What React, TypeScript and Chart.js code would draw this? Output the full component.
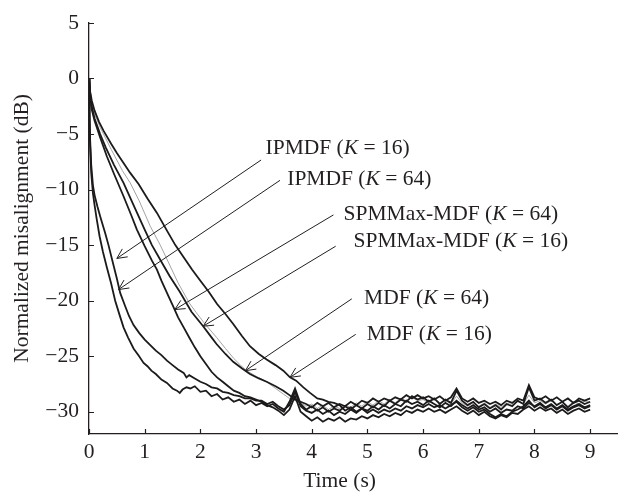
import React, { useEffect, useRef } from 'react';
import { Chart, registerables } from 'chart.js';

Chart.register(...registerables);

// ---- axes ----
const xTickValues = [0, 1, 2, 3, 4, 5, 6, 7, 8, 9];
const yTickValues = [5, 0, -5, -10, -15, -20, -25, -30];
const xMin = 0;
const xMax = 9.5;
const yMin = -32;
const yMax = 5;
const xTitle = 'Time (s)';
const yTitle = 'Normalized misalignment (dB)';

// ---- series: [time (s), misalignment (dB)] ----
const ipmdf16: [number, number][] = [
  [0, 0], [0.01, -3.5], [0.02, -6], [0.04, -8.5], [0.07, -10.3], [0.1, -11.4], [0.14, -12.7], [0.19, -14.2],
  [0.25, -15.6], [0.32, -17.0], [0.4, -18.5], [0.47, -20.0], [0.55, -21.3], [0.62, -22.4], [0.7, -23.3],
  [0.8, -24.3], [0.9, -25.0], [0.98, -25.6], [1.05, -25.9], [1.12, -26.3], [1.2, -26.6], [1.3, -27.1],
  [1.4, -27.4], [1.5, -27.9], [1.58, -28.1], [1.63, -28.3], [1.68, -28.0], [1.75, -27.8], [1.82, -27.9],
  [1.9, -27.7], [2.0, -28.2], [2.1, -28.1], [2.2, -28.6], [2.3, -28.4], [2.4, -28.9], [2.5, -28.7],
  [2.6, -29.1], [2.7, -28.9], [2.8, -29.3], [2.9, -29.0], [3.0, -29.4], [3.1, -29.2], [3.2, -29.5],
  [3.3, -29.3], [3.4, -29.7], [3.5, -30.0], [3.6, -29.1], [3.7, -27.9], [3.8, -29.3], [3.9, -29.8],
  [4.0, -29.5], [4.1, -29.9], [4.2, -29.6], [4.3, -30.0], [4.4, -29.7], [4.5, -29.9], [4.6, -29.5],
  [4.7, -29.8], [4.8, -29.4], [4.9, -29.7], [5.0, -29.3], [5.1, -29.6], [5.2, -29.2], [5.3, -29.5],
  [5.4, -29.0], [5.5, -29.3], [5.6, -28.9], [5.7, -29.1], [5.8, -28.6], [5.9, -28.9], [6.0, -28.7],
  [6.1, -29.1], [6.2, -28.8], [6.3, -29.3], [6.4, -28.9], [6.5, -29.2], [6.6, -28.1], [6.7, -29.0],
  [6.8, -29.4], [6.9, -29.1], [7.0, -29.6], [7.1, -29.3], [7.2, -29.7], [7.3, -29.4], [7.4, -29.8],
  [7.5, -29.3], [7.6, -29.5], [7.7, -29.0], [7.8, -29.3], [7.9, -27.8], [8.0, -29.0], [8.1, -28.8],
  [8.2, -29.2], [8.3, -28.9], [8.4, -29.4], [8.5, -29.1], [8.6, -29.6], [8.7, -29.2], [8.8, -29.0],
  [8.9, -29.3], [9.0, -29.1],
];

const ipmdf64: [number, number][] = [
  [0, 0], [0.01, -3], [0.02, -5.5], [0.04, -7.8], [0.07, -9.6], [0.1, -10.5], [0.15, -11.5], [0.2, -12.4],
  [0.29, -13.9], [0.35, -15.0], [0.42, -16.4], [0.5, -18.0], [0.56, -19.3], [0.65, -20.5], [0.72, -21.4],
  [0.8, -22.2], [0.9, -22.9], [1.0, -23.5], [1.1, -24.0], [1.2, -24.5], [1.3, -24.9], [1.4, -25.4],
  [1.5, -25.8], [1.6, -26.2], [1.7, -26.5], [1.75, -26.9], [1.8, -26.7], [1.9, -27.0], [2.0, -27.3],
  [2.1, -27.5], [2.2, -27.8], [2.3, -27.9], [2.4, -28.2], [2.5, -28.3], [2.6, -28.5], [2.7, -28.6],
  [2.8, -28.8], [2.9, -28.8], [3.0, -29.0], [3.1, -29.0], [3.2, -29.3], [3.3, -29.1], [3.4, -29.5],
  [3.5, -29.8], [3.6, -29.4], [3.7, -28.2], [3.8, -29.5], [3.9, -29.9], [4.0, -30.1], [4.1, -29.8],
  [4.2, -30.2], [4.3, -29.9], [4.4, -30.3], [4.5, -30.0], [4.6, -30.2], [4.7, -29.8], [4.8, -30.1],
  [4.9, -29.7], [5.0, -29.9], [5.1, -29.5], [5.2, -29.8], [5.3, -29.4], [5.4, -29.7], [5.5, -29.3],
  [5.6, -29.5], [5.7, -29.0], [5.8, -29.3], [5.9, -29.1], [6.0, -29.4], [6.1, -29.0], [6.2, -29.3],
  [6.3, -29.6], [6.4, -29.2], [6.5, -29.5], [6.6, -29.0], [6.7, -29.4], [6.8, -29.7], [6.9, -29.4],
  [7.0, -29.8], [7.1, -29.6], [7.2, -30.0], [7.3, -29.7], [7.4, -30.1], [7.5, -29.8], [7.6, -29.9],
  [7.7, -29.5], [7.8, -29.7], [7.9, -29.2], [8.0, -29.5], [8.1, -29.2], [8.2, -29.6], [8.3, -29.3],
  [8.4, -29.7], [8.5, -29.4], [8.6, -29.8], [8.7, -29.5], [8.8, -29.3], [8.9, -29.6], [9.0, -29.4],
];

const spmmax64: [number, number][] = [
  [0, 0], [0.02, -1.5], [0.05, -2.8], [0.1, -3.8], [0.2, -5.3], [0.32, -7.0], [0.45, -8.6], [0.62, -10.6],
  [0.75, -12.2], [0.86, -13.6], [1.0, -15.1], [1.13, -16.4], [1.22, -17.2], [1.3, -18.2], [1.4, -19.3],
  [1.52, -20.6], [1.6, -21.5], [1.7, -22.4], [1.81, -23.4], [1.9, -24.2], [2.0, -25.0], [2.1, -25.7],
  [2.2, -26.4], [2.3, -26.9], [2.4, -27.3], [2.5, -27.7], [2.6, -28.1], [2.7, -28.3], [2.8, -28.6],
  [2.9, -28.7], [3.0, -28.9], [3.1, -29.1], [3.2, -29.4], [3.3, -29.6], [3.4, -29.9], [3.5, -30.3],
  [3.6, -29.8], [3.7, -28.6], [3.8, -30.0], [3.9, -30.4], [4.0, -30.8], [4.1, -30.5], [4.2, -30.9],
  [4.3, -30.6], [4.4, -30.8], [4.5, -30.5], [4.6, -30.9], [4.7, -30.6], [4.8, -30.7], [4.9, -30.4],
  [5.0, -30.6], [5.1, -30.3], [5.2, -30.5], [5.3, -30.2], [5.4, -30.4], [5.5, -30.1], [5.6, -30.3],
  [5.7, -29.9], [5.8, -30.1], [5.9, -29.8], [6.0, -30.0], [6.1, -29.7], [6.2, -30.0], [6.3, -29.8],
  [6.4, -30.1], [6.5, -29.8], [6.6, -29.5], [6.7, -29.9], [6.8, -30.2], [6.9, -29.9], [7.0, -30.3],
  [7.1, -30.0], [7.2, -30.4], [7.3, -30.6], [7.4, -30.3], [7.5, -30.5], [7.6, -30.1], [7.7, -30.2],
  [7.8, -29.8], [7.9, -29.5], [8.0, -29.9], [8.1, -29.6], [8.2, -29.9], [8.3, -29.7], [8.4, -30.1],
  [8.5, -29.8], [8.6, -30.2], [8.7, -29.9], [8.8, -29.7], [8.9, -30.0], [9.0, -29.8],
];

const spmmax16: [number, number][] = [
  [0, 0], [0.02, -1.3], [0.05, -2.6], [0.1, -3.6], [0.2, -5.0], [0.3, -6.2], [0.45, -7.8], [0.62, -9.4],
  [0.8, -11.4], [1.0, -13.6], [1.13, -15.0], [1.3, -16.5], [1.45, -17.8], [1.63, -19.2], [1.84, -21.0],
  [2.05, -22.3], [2.2, -23.3], [2.29, -23.9], [2.45, -24.8], [2.59, -25.5], [2.75, -26.1], [2.89, -26.6],
  [3.05, -27.0], [3.19, -27.3], [3.35, -27.7], [3.49, -28.1], [3.6, -28.5], [3.7, -28.9], [3.8, -29.1],
  [3.9, -29.3], [4.0, -29.6], [4.1, -29.2], [4.2, -29.5], [4.3, -29.2], [4.4, -29.6], [4.5, -29.3],
  [4.6, -29.5], [4.7, -29.1], [4.8, -29.4], [4.9, -29.0], [5.0, -29.2], [5.1, -28.8], [5.2, -29.1],
  [5.3, -28.8], [5.4, -29.0], [5.5, -28.7], [5.6, -28.9], [5.7, -28.5], [5.8, -28.8], [5.9, -28.5],
  [6.0, -28.8], [6.1, -28.6], [6.2, -28.9], [6.3, -28.6], [6.4, -29.0], [6.5, -28.7], [6.6, -27.9],
  [6.7, -28.8], [6.8, -29.1], [6.9, -28.8], [7.0, -29.2], [7.1, -29.0], [7.2, -29.3], [7.3, -29.1],
  [7.4, -29.4], [7.5, -29.0], [7.6, -29.2], [7.7, -28.8], [7.8, -29.0], [7.9, -27.6], [8.0, -28.7],
  [8.1, -28.9], [8.2, -28.6], [8.3, -29.0], [8.4, -28.7], [8.5, -29.1], [8.6, -28.8], [8.7, -29.2],
  [8.8, -28.8], [8.9, -29.0], [9.0, -28.8],
];

const mdf64: [number, number][] = [
  [0, 0], [0.02, -1.2], [0.05, -2.3], [0.1, -3.2], [0.2, -4.4], [0.4, -6.4], [0.6, -8.3], [0.74, -9.4],
  [0.9, -11.0], [1.1, -13.3], [1.28, -15.0], [1.45, -16.8], [1.6, -18.4], [1.69, -19.2], [1.8, -20.2],
  [1.93, -21.1], [2.1, -22.2], [2.29, -23.3], [2.45, -24.3], [2.6, -25.2], [2.72, -25.8], [2.83, -26.3],
  [3.0, -26.8], [3.19, -27.3], [3.35, -27.9], [3.49, -28.4], [3.6, -28.8], [3.7, -29.0], [3.8, -29.2],
  [3.9, -29.5], [4.0, -29.3], [4.1, -29.7], [4.2, -29.4], [4.3, -29.8], [4.4, -29.5], [4.5, -29.7],
  [4.6, -29.4], [4.7, -29.6], [4.8, -29.2], [4.9, -29.5], [5.0, -29.1], [5.1, -29.4], [5.2, -29.0],
  [5.3, -29.3], [5.4, -28.9], [5.5, -29.2], [5.6, -28.8], [5.7, -29.0], [5.8, -28.7], [5.9, -29.0],
  [6.0, -28.9], [6.1, -29.2], [6.2, -28.9], [6.3, -29.2], [6.4, -29.0], [6.5, -29.3], [6.6, -28.6],
  [6.7, -29.2], [6.8, -29.5], [6.9, -29.2], [7.0, -29.5], [7.1, -29.2], [7.2, -29.6], [7.3, -29.3],
  [7.4, -29.6], [7.5, -29.2], [7.6, -29.4], [7.7, -29.1], [7.8, -29.3], [7.9, -28.5], [8.0, -29.2],
  [8.1, -29.0], [8.2, -29.3], [8.3, -29.0], [8.4, -29.4], [8.5, -29.1], [8.6, -29.5], [8.7, -29.1],
  [8.8, -29.3], [8.9, -29.0], [9.0, -29.2],
];

const mdf16: [number, number][] = [
  [0, 0], [0.02, -1.2], [0.05, -2.0], [0.1, -2.9], [0.18, -3.9], [0.26, -4.7], [0.4, -5.9], [0.5, -6.7],
  [0.62, -7.6], [0.74, -8.5], [0.89, -9.5], [1.05, -10.8], [1.22, -12.1], [1.4, -13.7], [1.55, -15.0],
  [1.7, -16.1], [1.85, -17.2], [2.0, -18.2], [2.15, -19.2], [2.3, -20.3], [2.45, -21.2], [2.59, -22.1],
  [2.75, -23.2], [2.89, -24.1], [3.05, -24.8], [3.19, -25.3], [3.35, -25.8], [3.49, -26.3], [3.61, -26.9],
  [3.72, -27.2], [3.85, -27.8], [3.97, -28.3], [4.1, -28.8], [4.2, -28.9], [4.3, -29.1], [4.4, -29.2],
  [4.5, -29.4], [4.6, -29.9], [4.7, -29.6], [4.8, -30.0], [4.9, -29.7], [5.0, -30.1], [5.1, -29.8],
  [5.2, -30.1], [5.3, -29.8], [5.4, -30.0], [5.5, -29.7], [5.6, -29.9], [5.7, -29.5], [5.8, -29.7],
  [5.9, -29.4], [6.0, -29.6], [6.1, -29.3], [6.2, -29.6], [6.3, -29.4], [6.4, -29.7], [6.5, -29.4],
  [6.6, -29.1], [6.7, -29.6], [6.8, -29.9], [6.9, -29.6], [7.0, -30.0], [7.1, -29.8], [7.2, -30.2],
  [7.3, -30.5], [7.4, -30.2], [7.5, -30.4], [7.6, -30.0], [7.7, -29.8], [7.8, -29.5], [7.9, -29.0],
  [8.0, -29.6], [8.1, -29.3], [8.2, -29.7], [8.3, -29.4], [8.4, -29.8], [8.5, -29.5], [8.6, -29.9],
  [8.7, -29.6], [8.8, -29.4], [8.9, -29.7], [9.0, -29.5],
];

// ---- annotation labels (text before italic K, text after) ----
const labelPre = ['IPMDF (', 'IPMDF (', 'SPMMax-MDF (', 'SPMMax-MDF (', 'MDF (', 'MDF ('];
const labelPost = [' = 16)', ' = 64)', ' = 64)', ' = 16)', ' = 64)', ' = 16)'];
// label anchor (left, middle), arrow tail and arrow tip in data coordinates
const labelAt: [number, number][] = [[3.17, -6.3], [3.56, -9.1], [4.57, -12.2], [4.75, -14.7], [4.94, -19.8], [4.99, -23.0]];
const arrowFrom: [number, number][] = [[3.09, -7.34], [3.43, -9.17], [4.39, -12.28], [4.43, -15.1], [4.72, -19.83], [4.79, -23.03]];
const arrowTo: [number, number][] = [[0.5, -16.2], [0.53, -19.0], [1.54, -20.8], [2.05, -22.3], [2.81, -26.3], [3.61, -26.9]];

const FONT = '"Liberation Serif", "Times New Roman", serif';
const FONT_SIZE = 21.5;
const INK = '#231f20';

const toXY = (arr: [number, number][]) => arr.map(([x, y]) => ({ x, y }));

const decorPlugin = {
  id: 'decor',
  afterDraw(chart: any) {
    const { ctx, scales } = chart;
    const xs = scales.x;
    const ys = scales.y;
    const area = chart.chartArea;
    ctx.save();
    // inward tick marks
    ctx.strokeStyle = INK;
    ctx.lineWidth = 1.2;
    ctx.beginPath();
    xTickValues.forEach((v) => {
      const px = Math.round(xs.getPixelForValue(v)) + 0.5;
      ctx.moveTo(px, area.bottom);
      ctx.lineTo(px, area.bottom - 5);
    });
    yTickValues.forEach((v) => {
      const py = Math.round(ys.getPixelForValue(v)) + 0.5;
      ctx.moveTo(area.left, py);
      ctx.lineTo(area.left + 5, py);
    });
    ctx.stroke();

    // arrows
    ctx.lineWidth = 1;
    ctx.strokeStyle = INK;
    arrowFrom.forEach((from, i) => {
      const x1 = xs.getPixelForValue(from[0]);
      const y1 = ys.getPixelForValue(from[1]);
      const x2 = xs.getPixelForValue(arrowTo[i][0]);
      const y2 = ys.getPixelForValue(arrowTo[i][1]);
      const ang = Math.atan2(y2 - y1, x2 - x1);
      const len = 11;
      const spread = 0.45;
      ctx.beginPath();
      ctx.moveTo(x1, y1);
      ctx.lineTo(x2, y2);
      ctx.moveTo(x2 - len * Math.cos(ang - spread), y2 - len * Math.sin(ang - spread));
      ctx.lineTo(x2, y2);
      ctx.lineTo(x2 - len * Math.cos(ang + spread), y2 - len * Math.sin(ang + spread));
      ctx.stroke();
    });

    // labels
    ctx.fillStyle = INK;
    ctx.textBaseline = 'middle';
    ctx.textAlign = 'left';
    labelAt.forEach((pos, i) => {
      let x = xs.getPixelForValue(pos[0]);
      const y = ys.getPixelForValue(pos[1]);
      ctx.font = `${FONT_SIZE}px ${FONT}`;
      ctx.fillText(labelPre[i], x, y);
      x += ctx.measureText(labelPre[i]).width;
      ctx.font = `italic ${FONT_SIZE}px ${FONT}`;
      ctx.fillText('K', x, y);
      x += ctx.measureText('K').width;
      ctx.font = `${FONT_SIZE}px ${FONT}`;
      ctx.fillText(labelPost[i], x, y);
    });

    // x axis title centred on the tick range
    ctx.font = `${FONT_SIZE}px ${FONT}`;
    ctx.textAlign = 'center';
    const midX = xs.getPixelForValue((xTickValues[0] + xTickValues[xTickValues.length - 1]) / 2);
    ctx.fillText(xTitle, midX, area.bottom + 47);
    ctx.restore();
  },
};

export default function App() {
  const canvasRef = useRef<HTMLCanvasElement | null>(null);

  useEffect(() => {
    document.body.style.margin = '0';
    const canvas = canvasRef.current;
    if (!canvas) return;
    const black = (data: [number, number][]) => ({
      data: toXY(data),
      borderColor: '#1c1a1b',
      borderWidth: 1.8,
      pointRadius: 0,
      tension: 0,
      fill: false,
    });
    const chart = new Chart(canvas, {
      type: 'line',
      data: {
        datasets: [
          { label: 'IPMDF (K = 16)', ...black(ipmdf16) },
          { label: 'IPMDF (K = 64)', ...black(ipmdf64) },
          { label: 'SPMMax-MDF (K = 64)', ...black(spmmax64) },
          { label: 'SPMMax-MDF (K = 16)', ...black(spmmax16) },
          { label: 'MDF (K = 16)', ...black(mdf16) },
          { label: 'MDF (K = 64)', data: toXY(mdf64), borderColor: '#9a9a9a', borderWidth: 0.9, pointRadius: 0, tension: 0, fill: false },
        ],
      },
      options: {
        animation: false,
        responsive: false,
        devicePixelRatio: 1,
        layout: { padding: { top: 18, right: 0, bottom: 0, left: 0 } },
        plugins: { legend: { display: false }, tooltip: { enabled: false } },
        scales: {
          x: {
            type: 'linear',
            min: xMin,
            max: xMax,
            afterFit: (s: any) => { s.height = 59; },
            afterBuildTicks: (s: any) => { s.ticks = xTickValues.map((v) => ({ value: v })); },
            grid: { display: true, drawOnChartArea: false, drawTicks: false },
            border: { display: true, color: INK, width: 1.3 },
            ticks: {
              padding: 5,
              color: INK,
              font: { family: FONT, size: FONT_SIZE },
              callback: (v: any) => String(v),
            },
          },
          y: {
            type: 'linear',
            min: yMin,
            max: yMax,
            afterFit: (s: any) => { s.width = 89; },
            afterBuildTicks: (s: any) => { s.ticks = yTickValues.map((v) => ({ value: v })); },
            grid: { display: true, drawOnChartArea: false, drawTicks: false },
            border: { display: true, color: INK, width: 1.3 },
            ticks: {
              padding: 10,
              color: INK,
              font: { family: FONT, size: FONT_SIZE },
              callback: (v: any) => (Number(v) < 0 ? '\u2212' + Math.abs(Number(v)) : String(v)),
            },
            title: {
              display: true,
              text: yTitle,
              color: INK,
              font: { family: FONT, size: FONT_SIZE },
              padding: { top: 9, bottom: 0 },
            },
          },
        },
      },
      plugins: [decorPlugin],
    });
    return () => chart.destroy();
  }, []);

  return (
    <div style={{ width: 618, height: 493 }}>
      <canvas ref={canvasRef} width={618} height={493} style={{ display: 'block', width: 618, height: 493 }} />
    </div>
  );
}
